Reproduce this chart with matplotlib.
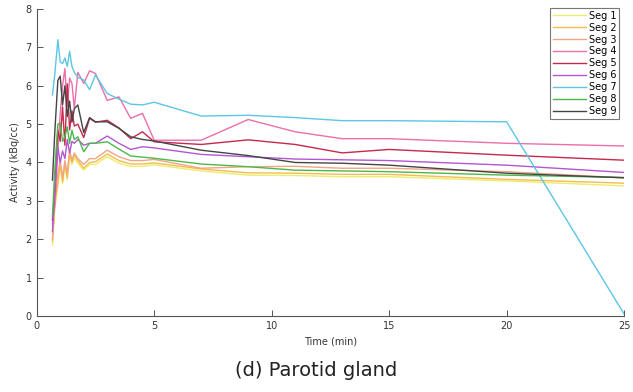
import numpy as np
import matplotlib
matplotlib.use("Agg")
import matplotlib.pyplot as plt

# time points (min)
t = [0.67, 0.77, 0.9, 1.0, 1.1, 1.2, 1.3, 1.4, 1.5, 1.6, 1.75, 2.0, 2.25, 2.5,
     3.0, 3.5, 4.0, 4.5, 5, 7, 9, 11, 13, 15, 20, 25]

# activity per segment (kBq/cc)
seg1 = [1.85, 2.8, 3.4, 3.9, 3.45, 3.9, 3.55, 4.2, 3.95, 4.12, 3.98, 3.8, 3.95, 3.95,
        4.15, 3.98, 3.9, 3.9, 3.94, 3.78, 3.67, 3.66, 3.63, 3.63, 3.52, 3.39]
seg2 = [1.95, 2.9, 3.45, 3.98, 3.5, 3.98, 3.6, 4.28, 4.0, 4.2, 4.05, 3.85, 4.0, 4.02,
        4.22, 4.05, 3.96, 3.96, 3.99, 3.83, 3.73, 3.72, 3.69, 3.69, 3.56, 3.46]
seg3 = [2.0, 3.0, 3.7, 4.05, 3.6, 4.05, 3.7, 4.3, 4.05, 4.25, 4.1, 3.95, 4.1, 4.1,
        4.32, 4.15, 4.05, 4.05, 4.08, 3.85, 3.89, 3.9, 3.85, 3.85, 3.76, 3.6]
seg4 = [2.4, 2.9, 4.3, 5.27, 6.0, 6.45, 5.45, 6.2, 6.06, 5.4, 6.35, 6.06, 6.39, 6.32,
        5.62, 5.71, 5.15, 5.28, 4.58, 4.58, 5.12, 4.8, 4.62, 4.62, 4.5, 4.43]
seg5 = [2.5, 3.3, 4.85, 4.55, 5.45, 4.45, 6.05, 4.85, 5.35, 4.95, 5.0, 4.65, 5.15, 5.05,
        5.1, 4.9, 4.62, 4.8, 4.54, 4.47, 4.59, 4.47, 4.25, 4.34, 4.19, 4.06]
seg6 = [2.2, 3.3, 4.4, 4.0, 4.3, 4.1, 4.6, 4.25, 4.55, 4.5, 4.6, 4.45, 4.5, 4.5,
        4.69, 4.5, 4.34, 4.41, 4.38, 4.21, 4.15, 4.09, 4.07, 4.05, 3.93, 3.74]
seg7 = [5.76, 6.3, 7.2, 6.62, 6.58, 6.72, 6.5, 6.9, 6.5, 6.35, 6.22, 6.15, 5.9, 6.28,
        5.8, 5.65, 5.52, 5.5, 5.57, 5.21, 5.23, 5.17, 5.09, 5.09, 5.06, 0.05]
seg8 = [2.6, 3.8, 5.0, 5.03, 4.55, 4.67, 4.93, 4.5, 4.84, 4.6, 4.67, 4.28, 4.5, 4.5,
        4.54, 4.35, 4.17, 4.14, 4.11, 3.96, 3.89, 3.8, 3.78, 3.76, 3.67, 3.61]
seg9 = [3.54, 4.8, 6.14, 6.25, 5.5, 6.0, 5.2, 5.6, 5.05, 5.4, 5.5, 4.78, 5.17, 5.06,
        5.06, 4.89, 4.67, 4.6, 4.56, 4.32, 4.18, 4.0, 3.98, 3.93, 3.72, 3.6]

segs = [seg1, seg2, seg3, seg4, seg5, seg6, seg7, seg8, seg9]
labels = ['Seg 1', 'Seg 2', 'Seg 3', 'Seg 4', 'Seg 5', 'Seg 6', 'Seg 7', 'Seg 8', 'Seg 9']
colors = ['#ecec70', '#f2bd4a', '#f0a585', '#ec6eaa', '#c42a4c', '#b256d2',
          '#5cc6e4', '#4cb84c', '#454545']

fig = plt.figure(figsize=(6.33, 3.92), dpi=100)
ax = fig.add_axes([0.058, 0.194, 0.928, 0.783])

for s, lab, c in zip(segs, labels, colors):
    ax.plot(t, s, color=c, lw=1.0, label=lab)

ax.set_xlim(0, 25)
ax.set_ylim(0, 8)
ax.set_xticks([0, 5, 10, 15, 20, 25])
ax.set_yticks(range(0, 9))
for sp in ['top', 'right']:
    ax.spines[sp].set_visible(False)
for sp in ['left', 'bottom']:
    ax.spines[sp].set_color('#555555')
    ax.spines[sp].set_linewidth(0.8)
ax.tick_params(direction='in', length=4, width=0.7, colors='#555555',
               labelsize=7, labelcolor='#333333')
ax.set_xlabel('Time (min)', fontsize=7, color='#333333', labelpad=4)
ax.set_ylabel('Activity (kBq/cc)', fontsize=7, color='#333333', labelpad=4)

leg = ax.legend(loc='upper right', fontsize=7, handlelength=3.4, handletextpad=0.3,
                labelspacing=0.2, borderpad=0.3, fancybox=False, framealpha=1,
                bbox_to_anchor=(1.0, 1.02))
leg.get_frame().set_edgecolor('#777777')
leg.get_frame().set_linewidth(0.8)

fig.text(0.5, 0.055, '(d) Parotid gland', ha='center', va='center', fontsize=14,
         color='#222222')

fig.savefig('out.png', dpi=100)
